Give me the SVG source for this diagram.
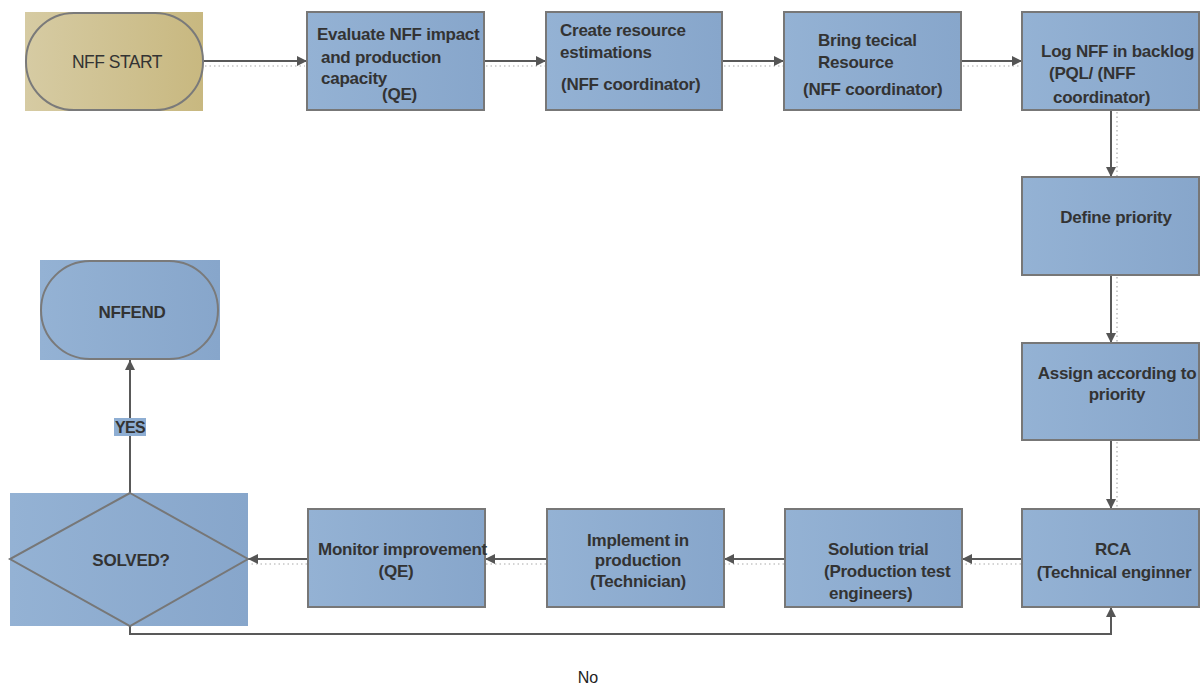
<svg xmlns="http://www.w3.org/2000/svg" width="1203" height="686" viewBox="0 0 1203 686">
  <defs>
    <linearGradient id="blue" x1="0" y1="0" x2="1" y2="0">
      <stop offset="0" stop-color="#94b2d4"/>
      <stop offset="1" stop-color="#87a6cb"/>
    </linearGradient>
    <linearGradient id="tan" x1="0" y1="0" x2="1" y2="0">
      <stop offset="0" stop-color="#d6cba3"/>
      <stop offset="1" stop-color="#c8b880"/>
    </linearGradient>
    <marker id="arr" viewBox="0 0 10 10" refX="10" refY="5" markerWidth="10" markerHeight="10" markerUnits="userSpaceOnUse" orient="auto">
      <path d="M0,0 L10,5 L0,10 z" fill="#555"/>
    </marker>
  </defs>
  <style>
    .box { fill: url(#blue); stroke: #777; stroke-width: 2; }
    .plain { fill: url(#blue); }
    .pill { fill: none; stroke: #7a7a7a; stroke-width: 2; }
    .t { font-family: "Liberation Sans", Arial, sans-serif; font-size: 17px; font-weight: bold; fill: #333; letter-spacing: -0.25px; }
    .c { text-anchor: middle; }
    .line { stroke: #595959; stroke-width: 2; fill: none; }
    .dot { stroke: #aaa; stroke-width: 1.2; stroke-dasharray: 1.5 3; fill: none; }
  </style>

  <rect width="1203" height="686" fill="#fff"/>

  <!-- connectors -->
  <g id="connectors">
    <line class="dot" x1="205" y1="66" x2="305" y2="66"/>
    <line class="line" x1="203" y1="61" x2="307" y2="61" marker-end="url(#arr)"/>
    <line class="dot" x1="486" y1="66" x2="545" y2="66"/>
    <line class="line" x1="484" y1="61" x2="546" y2="61" marker-end="url(#arr)"/>
    <line class="dot" x1="724" y1="66" x2="783" y2="66"/>
    <line class="line" x1="722" y1="61" x2="784" y2="61" marker-end="url(#arr)"/>
    <line class="dot" x1="963" y1="66" x2="1021" y2="66"/>
    <line class="line" x1="961" y1="61" x2="1022" y2="61" marker-end="url(#arr)"/>

    <line class="dot" x1="1117" y1="112" x2="1117" y2="176"/>
    <line class="line" x1="1111" y1="110" x2="1111" y2="177" marker-end="url(#arr)"/>
    <line class="dot" x1="1117" y1="277" x2="1117" y2="342"/>
    <line class="line" x1="1111" y1="275" x2="1111" y2="343" marker-end="url(#arr)"/>
    <line class="dot" x1="1117" y1="442" x2="1117" y2="508"/>
    <line class="line" x1="1111" y1="440" x2="1111" y2="509" marker-end="url(#arr)"/>

    <line class="dot" x1="1021" y1="564" x2="963" y2="564"/>
    <line class="line" x1="1022" y1="559" x2="962" y2="559" marker-end="url(#arr)"/>
    <line class="dot" x1="784" y1="564" x2="725" y2="564"/>
    <line class="line" x1="785" y1="559" x2="724" y2="559" marker-end="url(#arr)"/>
    <line class="dot" x1="546" y1="564" x2="486" y2="564"/>
    <line class="line" x1="547" y1="559" x2="485" y2="559" marker-end="url(#arr)"/>
    <line class="dot" x1="307" y1="564" x2="250" y2="564"/>
    <line class="line" x1="308" y1="559" x2="248" y2="559" marker-end="url(#arr)"/>

    <line class="line" x1="130" y1="493" x2="130" y2="360" marker-end="url(#arr)"/>
    <polyline class="line" points="130,626 130,634 1111,634 1111,607" marker-end="url(#arr)"/>
    <rect x="114" y="418" width="32" height="18" fill="#8eaed3"/>
    <text class="t c" x="130" y="433" style="font-size:16px;letter-spacing:-0.6px">YES</text>
    <text x="588" y="683" text-anchor="middle" style="font-family:'Liberation Sans',Arial,sans-serif;font-size:16px;fill:#222">No</text>
  </g>

  <!-- start terminator -->
  <g id="start">
    <rect x="25" y="12" width="178" height="99" fill="url(#tan)"/>
    <rect class="pill" x="26" y="13" width="177" height="97" rx="48" ry="48"/>
    <text x="117" y="68" text-anchor="middle" style="font-family:'Liberation Sans',Arial,sans-serif;font-size:17.5px;fill:#333;letter-spacing:-0.5px">NFF START</text>
  </g>

  <g id="evaluate">
    <rect class="box" x="307" y="12" width="177" height="98"/>
    <text class="t" x="317" y="40">Evaluate NFF impact</text>
    <text class="t" x="321" y="63">and production</text>
    <text class="t" x="321" y="84">capacity</text>
    <text class="t" x="382" y="100">(QE)</text>
  </g>

  <g id="estimate">
    <rect class="box" x="546" y="12" width="176" height="98"/>
    <text class="t" x="560" y="36">Create resource</text>
    <text class="t" x="560" y="58">estimations</text>
    <text class="t" x="561" y="90">(NFF coordinator)</text>
  </g>

  <g id="resource">
    <rect class="box" x="784" y="12" width="177" height="98"/>
    <text class="t" x="818" y="46">Bring tecical</text>
    <text class="t" x="818" y="68">Resource</text>
    <text class="t" x="803" y="95">(NFF coordinator)</text>
  </g>

  <g id="backlog">
    <rect class="box" x="1022" y="12" width="177" height="98"/>
    <text class="t" x="1041" y="57">Log NFF in backlog</text>
    <text class="t" x="1049" y="79">(PQL/ (NFF</text>
    <text class="t" x="1053" y="103">coordinator)</text>
  </g>

  <g id="priority">
    <rect class="box" x="1022" y="177" width="177" height="98"/>
    <text class="t c" x="1116" y="223">Define priority</text>
  </g>

  <g id="assign">
    <rect class="box" x="1022" y="343" width="177" height="97"/>
    <text class="t c" x="1117" y="379">Assign according to</text>
    <text class="t c" x="1117" y="400">priority</text>
  </g>

  <g id="rca">
    <rect class="box" x="1022" y="509" width="177" height="98"/>
    <text class="t c" x="1113" y="555">RCA</text>
    <text class="t c" x="1114" y="578">(Technical enginner</text>
  </g>

  <g id="trial">
    <rect class="box" x="785" y="509" width="177" height="98"/>
    <text class="t" x="828" y="555">Solution trial</text>
    <text class="t" x="824" y="577">(Production test</text>
    <text class="t" x="829" y="599">engineers)</text>
  </g>

  <g id="implement">
    <rect class="box" x="547" y="509" width="177" height="98"/>
    <text class="t c" x="638" y="546">Implement in</text>
    <text class="t c" x="638" y="566">production</text>
    <text class="t c" x="638" y="587">(Technician)</text>
  </g>

  <g id="monitor">
    <rect class="box" x="308" y="509" width="177" height="98"/>
    <text class="t" x="318" y="555">Monitor improvement</text>
    <text class="t c" x="396" y="577">(QE)</text>
  </g>

  <g id="decision">
    <rect class="plain" x="10" y="493" width="238" height="133"/>
    <polygon points="130,493 248,559 130,626 10,559" fill="none" stroke="#777" stroke-width="2"/>
    <text class="t c" x="131" y="566" style="font-size:17px">SOLVED?</text>
  </g>

  <g id="end">
    <rect class="plain" x="40" y="260" width="180" height="100"/>
    <rect class="pill" x="41" y="261" width="177" height="98" rx="49" ry="49"/>
    <text class="t c" x="132" y="318" style="letter-spacing:-0.3px">NFFEND</text>
  </g>
</svg>
